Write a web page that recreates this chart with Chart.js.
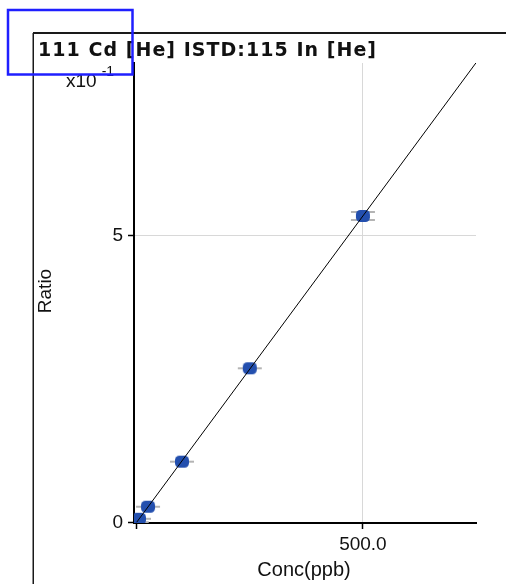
<!DOCTYPE html>
<html>
<head>
<meta charset="utf-8">
<script src="https://cdn.jsdelivr.net/npm/chart.js@4/dist/chart.umd.min.js"></script>
<style>
  html, body { margin: 0; padding: 0; background: #ffffff; }
  #c { display: block; }
</style>
</head>
<body>
<canvas id="c" width="506" height="584"></canvas>
<script>
// ---- Data ----
const titleText = '111 Cd [He] ISTD:115 In [He]';
const xAxisTitle = 'Conc(ppb)';
const yAxisTitle = 'Ratio';
const yExponentBase = 'x10';
const yExponentPower = '-1';

const conc  = [0, 5, 25, 100, 250, 500];                       // ppb
const ratio = [0.0003, 0.0062, 0.0272, 0.1058, 0.2688, 0.5346]; // ratio
const fitConc  = [0, 750];
const fitRatio = [0.0002, 0.8018];

const xTickValues = [0, 500];
const xTickLabels = ['', '500.0'];
const yTickValues = [0, 0.5];
const yTickLabels = ['0', '5'];

// ---- Marker images (style only) ----
function makeMarker(doubleBar) {
  const c = document.createElement('canvas');
  c.width = 26; c.height = 16;
  const g = c.getContext('2d');
  g.strokeStyle = '#b4b4b4';
  g.lineWidth = 2;
  g.beginPath();
  if (doubleBar) {
    g.moveTo(1, 4); g.lineTo(25, 4);
    g.moveTo(1, 12); g.lineTo(25, 12);
  } else {
    g.moveTo(1, 8); g.lineTo(25, 8);
  }
  g.stroke();
  g.fillStyle = '#234fae';
  g.beginPath();
  if (g.roundRect) { g.roundRect(6, 2, 14, 12, 4.5); } else { g.ellipse(13, 8, 7, 6, 0, 0, Math.PI * 2); }
  g.fill();
  return c;
}
const singleMarker = makeMarker(false);
const doubleMarker = makeMarker(true);

const FONT = "'Liberation Sans', Arial, sans-serif";
const TITLE_FONT = "'DejaVu Sans', 'Liberation Sans', sans-serif";

const decorPlugin = {
  id: 'decor',
  afterDraw(chart) {
    const ctx = chart.ctx;
    ctx.save();
    // outer frame
    ctx.strokeStyle = '#1a1a1a';
    ctx.lineWidth = 2;
    ctx.beginPath();
    ctx.moveTo(33, 33); ctx.lineTo(506, 33);
    ctx.stroke();
    ctx.lineWidth = 1.5;
    ctx.beginPath();
    ctx.moveTo(33.25, 33); ctx.lineTo(33.25, 584);
    ctx.stroke();

    // title with spacing
    ctx.fillStyle = '#111111';
    ctx.font = 'bold 19px ' + TITLE_FONT;
    ctx.textBaseline = 'alphabetic';
    ctx.textAlign = 'left';
    const natural = ctx.measureText(titleText).width;
    const target = 338;
    const spacing = Math.max(0, (target - natural) / (titleText.length - 1));
    ctx.letterSpacing = spacing + 'px';
    ctx.fillText(titleText, 38, 56);
    ctx.letterSpacing = '0px';

    // exponent label
    ctx.font = '19px ' + FONT;
    ctx.fillText(yExponentBase, 66, 87);
    const w = ctx.measureText(yExponentBase).width;
    ctx.font = '14px ' + FONT;
    ctx.fillText(yExponentPower, 66 + w + 5, 76);

    // axis titles
    ctx.font = '20px ' + FONT;
    ctx.textAlign = 'center';
    ctx.textBaseline = 'middle';
    ctx.fillText(xAxisTitle, 304, 570);
    ctx.save();
    ctx.translate(45.5, 291);
    ctx.rotate(-Math.PI / 2);
    ctx.font = '19px ' + FONT;
    ctx.fillText(yAxisTitle, 0, 0);
    ctx.restore();

    // blue selection rectangle
    ctx.strokeStyle = '#1f1fff';
    ctx.lineWidth = 2.5;
    ctx.strokeRect(8, 10, 124.5, 64.5);
    ctx.restore();
  }
};

new Chart(document.getElementById('c'), {
  type: 'scatter',
  data: {
    datasets: [
      {
        label: 'fit',
        type: 'line',
        data: fitConc.map((x, i) => ({ x: x, y: fitRatio[i] })),
        borderColor: '#000000',
        borderWidth: 1,
        pointRadius: 0,
        fill: false,
        order: 0
      },
      {
        label: 'std',
        data: conc.map((x, i) => ({ x: x, y: ratio[i] })),
        pointStyle: conc.map((x, i) => (i === conc.length - 1 ? doubleMarker : singleMarker)),
        order: 1
      }
    ]
  },
  options: {
    responsive: false,
    animation: false,
    devicePixelRatio: 1,
    layout: { padding: { top: 63, right: 30, left: 0, bottom: 0 } },
    plugins: { legend: { display: false }, tooltip: { enabled: false }, title: { display: false } },
    scales: {
      x: {
        type: 'linear',
        min: -6,
        max: 750,
        afterFit(scale) { scale.height = 61; },
        afterBuildTicks(scale) { scale.ticks = xTickValues.map(v => ({ value: v })); },
        ticks: {
          color: '#111111',
          font: { family: FONT, size: 19 },
          padding: 4,
          maxRotation: 0,
          autoSkip: false,
          callback: (v) => xTickLabels[xTickValues.indexOf(v)]
        },
        grid: {
          color: (c) => (c.tick && c.tick.value === 500 ? '#d8d8d8' : 'rgba(0,0,0,0)'),
          lineWidth: 1,
          tickColor: '#000000',
          tickLength: 6,
          tickWidth: 1.5
        },
        border: { display: true, color: '#000000', width: 2 }
      },
      y: {
        type: 'linear',
        min: -0.0012,
        max: 0.8015,
        afterFit(scale) { scale.width = 134; },
        afterBuildTicks(scale) { scale.ticks = yTickValues.map(v => ({ value: v })); },
        ticks: {
          color: '#111111',
          font: { family: FONT, size: 19 },
          padding: 5,
          autoSkip: false,
          callback: (v) => yTickLabels[yTickValues.indexOf(v)]
        },
        grid: {
          color: (c) => (c.tick && c.tick.value === 0.5 ? '#d8d8d8' : 'rgba(0,0,0,0)'),
          lineWidth: 1,
          tickColor: '#000000',
          tickLength: 6,
          tickWidth: 1.5
        },
        border: { display: true, color: '#000000', width: 2 }
      }
    }
  },
  plugins: [decorPlugin]
});
</script>
</body>
</html>
